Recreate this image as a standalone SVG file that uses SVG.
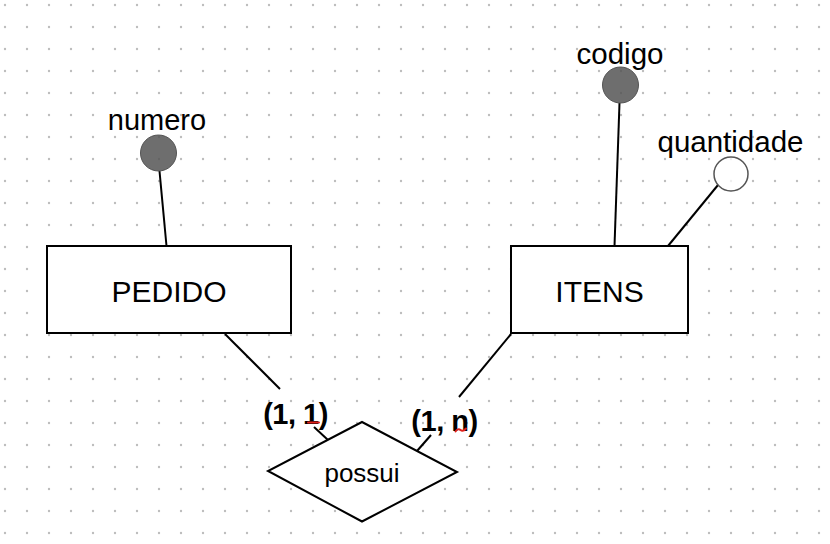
<svg xmlns="http://www.w3.org/2000/svg" width="830" height="544" viewBox="0 0 830 544">
  <style>
    .box { fill: #ffffff; stroke: #000000; stroke-width: 2; }
    .edge { fill: none; stroke: #000000; stroke-width: 2; }
    .key { fill: #555555; fill-opacity: 0.85; stroke: #555555; stroke-width: 1; }
    .attr { fill: #ffffff; fill-opacity: 0.75; stroke: #555555; stroke-width: 1.5; }
    .lbl { font-family: "Liberation Sans", Arial, Helvetica, sans-serif; fill: #000000; text-anchor: middle; }
    .card { font-family: "Liberation Sans", Arial, Helvetica, sans-serif; font-weight: bold; font-size: 29px; fill: #000000; text-anchor: middle; letter-spacing: -0.5px; }
    .squig { fill: none; stroke: #e0201a; stroke-width: 2; stroke-linecap: round; }
  </style>
  <defs>
    <pattern id="grid" patternUnits="userSpaceOnUse" x="0" y="0" width="22" height="22">
      <circle cx="5" cy="5" r="1.2" fill="#bdbdbd"/>
    </pattern>
  </defs>
  <rect x="0" y="0" width="830" height="544" fill="#ffffff"/>
  <rect x="0" y="0" width="830" height="544" fill="url(#grid)"/>

  <g id="connectors">
    <line class="edge" x1="159.5" y1="171" x2="166.5" y2="246"/>
    <line class="edge" x1="619.5" y1="103" x2="614.5" y2="246"/>
    <line class="edge" x1="718" y1="185" x2="668" y2="246"/>
    <line class="edge" x1="225" y1="334" x2="280" y2="389"/>
    <line class="edge" x1="314" y1="427" x2="328" y2="440"/>
    <line class="edge" x1="511" y1="334" x2="459" y2="397"/>
    <line class="edge" x1="431" y1="435" x2="417" y2="451"/>
  </g>

  <g id="pedido">
    <rect class="box" x="47" y="246" width="244" height="87"/>
    <text class="lbl" x="169" y="302" font-size="30">PEDIDO</text>
  </g>

  <g id="itens">
    <rect class="box" x="511" y="246" width="177" height="87"/>
    <text class="lbl" x="599.5" y="302" font-size="30">ITENS</text>
  </g>

  <g id="numero">
    <circle class="key" cx="158.5" cy="153" r="18"/>
    <text class="lbl" x="157" y="130" font-size="29">numero</text>
  </g>

  <g id="codigo">
    <circle class="key" cx="620.5" cy="85" r="18"/>
    <text class="lbl" x="620" y="64" font-size="29.5">codigo</text>
  </g>

  <g id="quantidade">
    <circle class="attr" cx="731" cy="174" r="17"/>
    <text class="lbl" x="730.5" y="152" font-size="29.5">quantidade</text>
  </g>

  <g id="possui">
    <polygon class="box" points="362,422 457,472 362,521.5 268,471"/>
    <text class="lbl" x="362" y="482" font-size="26">possui</text>
  </g>

  <g id="card-pedido">
    <text class="card" x="295.5" y="424">(1, 1)</text>
    <path class="squig" d="M308,422.5 L319,422.5"/>
  </g>

  <g id="card-itens">
    <text class="card" x="444.5" y="431">(1, n)</text>
    <path class="squig" d="M455.5,431.5 Q458,428 460.5,430 Q463,432 466,428.5"/>
  </g>
</svg>
